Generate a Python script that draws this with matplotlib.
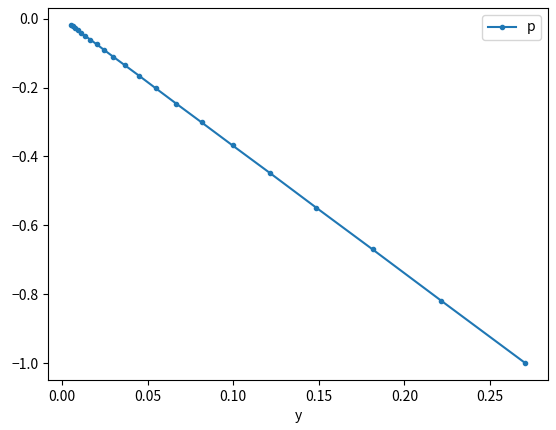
import matplotlib
matplotlib.use("Agg")
import matplotlib.pyplot as plt

plt.rcParams['font.family'] = ['Noto Sans CJK JP', 'DejaVu Sans']

y_vals = [0.2707, 0.2216, 0.1815, 0.1486, 0.1217, 0.0996, 0.0815, 0.0668,
          0.0547, 0.0448, 0.0366, 0.0300, 0.0246, 0.0201, 0.0165, 0.0135,
          0.0110, 0.0090, 0.0074, 0.0061, 0.0050]
p_vals = [-1.000, -0.819, -0.670, -0.549, -0.449, -0.368, -0.301, -0.247,
          -0.202, -0.165, -0.135, -0.111, -0.091, -0.074, -0.061, -0.050,
          -0.041, -0.033, -0.027, -0.022, -0.018]

fig = plt.figure(figsize=(5.56, 4.30), dpi=100)
ax = fig.add_axes([48/556, 50/430, 500/556, 372/430])
ax.plot(y_vals, p_vals, marker='.', color='#1f77b4', label='p')
ax.set_xlabel('y')
ax.legend(loc='upper right')
fig.savefig('out.png', dpi=100)
